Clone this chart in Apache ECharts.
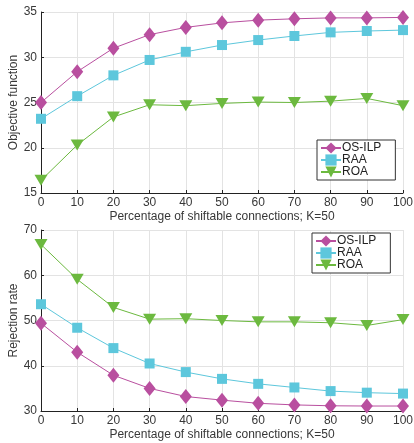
<!DOCTYPE html>
<html><head><meta charset="utf-8">
<script src="https://cdn.jsdelivr.net/npm/echarts@6/dist/echarts.min.js"></script>
<style>html,body{margin:0;padding:0;background:#fff}#c{width:414px;height:443px}</style>
</head><body><div id="c"></div>
<script>
const xValues = [0,10,20,30,40,50,60,70,80,90,100];
const objOSILP = [25.0,28.4,31.0,32.5,33.3,33.8,34.1,34.25,34.35,34.35,34.4];
const objRAA   = [23.2,25.7,28.0,29.7,30.6,31.35,31.9,32.35,32.75,32.9,33.0];
const objROA   = [16.4,20.3,23.4,24.75,24.65,24.9,25.05,25.0,25.15,25.45,24.65];
const rejOSILP = [49.4,43.0,37.9,35.0,33.2,32.4,31.7,31.35,31.15,31.1,31.1];
const rejRAA   = [53.6,48.4,43.9,40.5,38.6,37.1,36.0,35.2,34.4,34.05,33.85];
const rejROA   = [66.8,59.1,52.9,50.3,50.4,50.0,49.7,49.7,49.5,48.9,50.2];
const seriesNames = ['OS-ILP','RAA','ROA'];
const xName = 'Percentage of shiftable connections; K=50';

const colors = ['#b94f9f','#5dc7dc','#6cb93f'];
const symbols = ['diamond','rect','path://M0,0L12,0L6,10z'];
const sizes = [[12,15],[10,10],[13,11]];
const font = 'Liberation Sans, Arial, Helvetica, sans-serif';

function mk(name, vals, idx, gi){
  return {name, type:'line', xAxisIndex:gi, yAxisIndex:gi,
    data: xValues.map((x,i)=>[x, vals[i]]),
    symbol: symbols[idx], symbolSize: sizes[idx], showAllSymbol:true,
    lineStyle:{width:1, color:colors[idx]},
    itemStyle:{color:colors[idx]}, color:colors[idx], z: 3-idx+2};
}
const axisLabel = {color:'#383838', fontSize:12, fontFamily:font, margin:4};
function xAxis(gi){
  return {type:'value', gridIndex:gi, min:0, max:100, interval:10,
    name:xName, nameLocation:'middle', nameGap:18, nameMoveOverlap:false,
    nameTextStyle:{color:'#383838', fontSize:12, fontFamily:font},
    axisLine:{show:true, lineStyle:{color:'#222'}},
    axisTick:{show:true, inside:true, length:3, lineStyle:{color:'#222'}},
    axisLabel, splitLine:{show:true, lineStyle:{color:'#e3e3e3'}}};
}
function yAxis(gi, min, max, interval, name){
  return {type:'value', gridIndex:gi, min, max, interval,
    name, nameLocation:'middle', nameGap:21, nameMoveOverlap:false,
    nameTextStyle:{color:'#383838', fontSize:12, fontFamily:font},
    axisLine:{show:true, lineStyle:{color:'#222'}},
    axisTick:{show:true, inside:true, length:3, lineStyle:{color:'#222'}},
    axisLabel, splitLine:{show:true, lineStyle:{color:'#e3e3e3'}}};
}
function legend(left, top){
  return {orient:'vertical', left, top, data:seriesNames,
    backgroundColor:'#fff', borderColor:'#333', borderWidth:1,
    padding:[2,14,2,3], itemGap:0, itemWidth:20, itemHeight:14,
    textStyle:{color:'#222', fontSize:12, fontFamily:font, padding:[0,0,0,-4]}};
}
const chart = echarts.init(document.getElementById('c'), null, {renderer:'canvas'});
chart.setOption({
  animation:false,
  backgroundColor:'#fff',
  grid:[{left:41, right:11, top:12, height:181, containLabel:false, outerBoundsMode:'none'},
        {left:41, right:11, top:230, height:181, containLabel:false, outerBoundsMode:'none'}],
  xAxis:[xAxis(0), xAxis(1)],
  yAxis:[yAxis(0,15,35,5,'Objective function'), yAxis(1,30,70,10,'Rejection rate')],
  legend:[legend(317,140), legend(312,233)],
  series:[
    mk(seriesNames[0], objOSILP, 0, 0), mk(seriesNames[1], objRAA, 1, 0), mk(seriesNames[2], objROA, 2, 0),
    mk(seriesNames[0], rejOSILP, 0, 1), mk(seriesNames[1], rejRAA, 1, 1), mk(seriesNames[2], rejROA, 2, 1)
  ]
});
</script></body></html>
